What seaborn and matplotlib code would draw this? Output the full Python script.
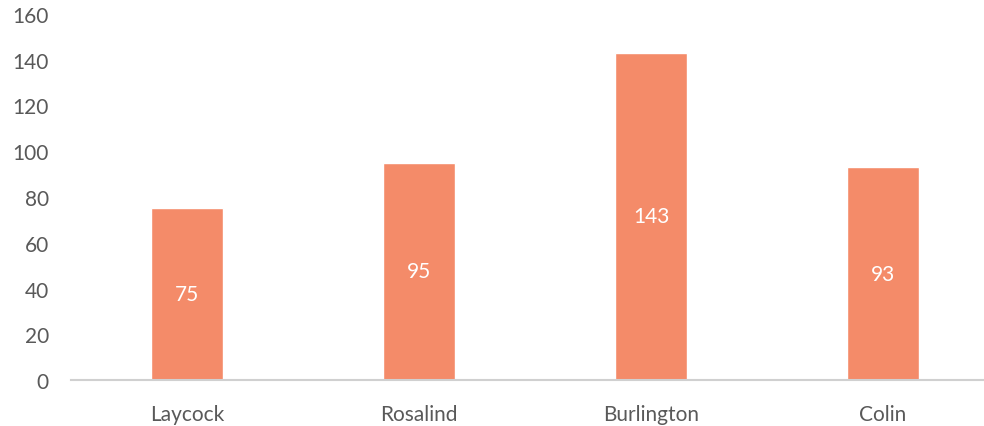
import matplotlib
matplotlib.use("Agg")
import matplotlib.pyplot as plt
import seaborn as sns
import pandas as pd

# values
names = ["Laycock", "Rosalind", "Burlington", "Colin"]
values = [75, 95, 143, 93]
yticks = [0, 20, 40, 60, 80, 100, 120, 140, 160]

df = pd.DataFrame({"name": names, "value": values})

sns.set_style("white")
plt.rcParams["font.family"] = ["Lato", "DejaVu Sans"]

fig = plt.figure(figsize=(9.84, 4.27), dpi=100)
ax = fig.add_axes([71 / 984, 46 / 427, 928 / 984, 366 / 427])

sns.barplot(data=df, x="name", y="value", color="#F48B69", saturation=1,
            width=0.31, ax=ax)

ax.bar_label(ax.containers[0], label_type="center", color="white", fontsize=15)

ax.set_ylim(0, 160)
ax.set_xlim(-0.5, 3.5)
ax.set_yticks(yticks)
ax.set_xlabel("")
ax.set_ylabel("")
ax.tick_params(axis="both", length=0, colors="#595959", labelsize=15)
ax.tick_params(axis="x", pad=17)
ax.tick_params(axis="y", pad=16)
for side in ["top", "right", "left"]:
    ax.spines[side].set_visible(False)
ax.spines["bottom"].set_color("#D0D0D0")
ax.spines["bottom"].set_linewidth(1.5)

fig.savefig("out.png", dpi=100)
